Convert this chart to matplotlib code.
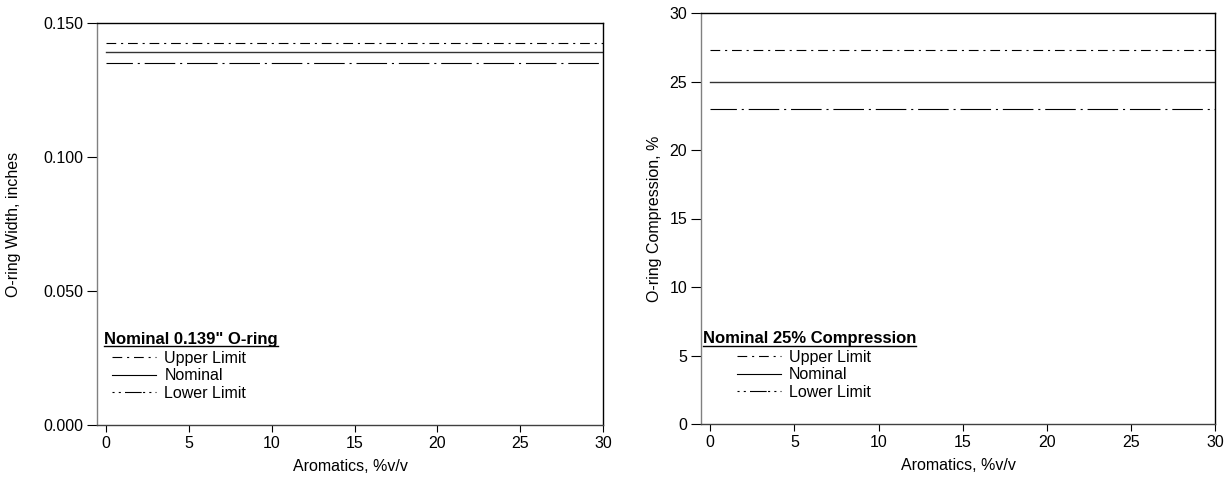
import matplotlib.pyplot as plt
from matplotlib.lines import Line2D

plt.rcParams['font.family'] = ['Liberation Sans', 'DejaVu Sans']
plt.rcParams['lines.scale_dashes'] = False

# data
aromatics = [0, 30]
width_upper = [0.1425, 0.1425]
width_nominal = [0.139, 0.139]
width_lower = [0.135, 0.135]
comp_upper = [27.3, 27.3]
comp_nominal = [25, 25]
comp_lower = [23, 23]

upper_dash = (0, (7, 3.5, 1.5, 3.5))
lower_dash = (3, (22, 3.5, 1.5, 3.5))
FS = 11.5

fig = plt.figure(figsize=(12.29, 4.82), dpi=100)
ax1 = fig.add_axes([97 / 1229, 57 / 482, 506 / 1229, 402 / 482])
ax2 = fig.add_axes([701 / 1229, 58 / 482, 514 / 1229, 411 / 482])


def style_axes(ax):
    ax.spines['left'].set_color('#808080')
    ax.spines['bottom'].set_color('#404040')
    for s in ax.spines.values():
        s.set_linewidth(1.0)
    ax.tick_params(axis='y', direction='out', length=7, width=0.8, labelsize=FS, pad=3)
    ax.tick_params(axis='x', direction='out', length=5, width=0.8, labelsize=FS, pad=3)
    ax.set_xlim(-0.55, 30)
    ax.set_xticks([0, 5, 10, 15, 20, 25, 30])
    ax.set_xlabel('Aromatics, %v/v', fontsize=FS, labelpad=6)


def legend_block(ax, title, x, y, indent):
    t = ax.text(x, y, title, transform=ax.transAxes, fontsize=12,
                fontweight='bold', va='center', ha='left')
    fig.canvas.draw()
    bb = t.get_window_extent().transformed(ax.transAxes.inverted())
    ax.add_line(Line2D([bb.x0, bb.x1], [bb.y0 + 0.002, bb.y0 + 0.002],
                       transform=ax.transAxes, color='black', lw=1.0))
    handles = [Line2D([], [], color='black', lw=0.8, linestyle=upper_dash),
               Line2D([], [], color='black', lw=0.8),
               Line2D([], [], color='black', lw=0.8, linestyle=(0, (1.5, 3, 1.5, 3, 12, 1)))]
    ax.legend(handles, ['Upper Limit', 'Nominal', 'Lower Limit'],
              loc='upper left', bbox_to_anchor=(indent, bb.y0 - 0.005),
              frameon=False, fontsize=FS, handlelength=2.8, handletextpad=0.5,
              labelspacing=0.15, borderaxespad=0, borderpad=0.1)


# left chart
ax1.plot(aromatics, width_upper, color='black', lw=0.8, linestyle=upper_dash)
ax1.plot(aromatics, width_nominal, color='#333333', lw=1.0)
ax1.plot(aromatics, width_lower, color='black', lw=0.8, linestyle=lower_dash)
ax1.set_ylim(0, 0.150)
ax1.set_yticks([0, 0.05, 0.1, 0.15])
ax1.set_yticklabels(['0.000', '0.050', '0.100', '0.150'])
ax1.set_ylabel('O-ring Width, inches', fontsize=FS, labelpad=16)
style_axes(ax1)
legend_block(ax1, 'Nominal 0.139" O-ring', 0.014, 0.212, 0.026)

# right chart
ax2.plot(aromatics, comp_upper, color='black', lw=0.8, linestyle=upper_dash)
ax2.plot(aromatics, comp_nominal, color='#333333', lw=1.0)
ax2.plot(aromatics, comp_lower, color='black', lw=0.8, linestyle=lower_dash)
ax2.set_ylim(0, 30)
ax2.set_yticks([0, 5, 10, 15, 20, 25, 30])
ax2.set_ylabel('O-ring Compression, %', fontsize=FS, labelpad=5)
style_axes(ax2)
legend_block(ax2, 'Nominal 25% Compression', 0.004, 0.207, 0.066)

fig.savefig('out.png', dpi=100)
